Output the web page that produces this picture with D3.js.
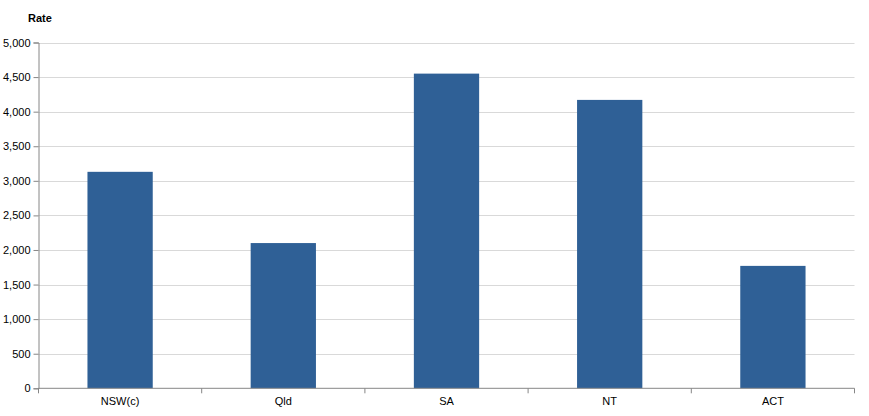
<!DOCTYPE html>
<html>
<head>
<meta charset="utf-8">
<script src="https://cdn.jsdelivr.net/npm/d3@7"></script>
<style>
    body { margin: 0; background: #fff; }
    text { font-family: "Liberation Sans", Arial, sans-serif; fill: #000; }
</style>
</head>
<body>
<div id="chart"></div>
<script>
const categories = ['NSW(c)', 'Qld', 'SA', 'NT', 'ACT']
const rates = [3130, 2100, 4550, 4170, 1770]
const yTicks = [0, 500, 1000, 1500, 2000, 2500, 3000, 3500, 4000, 4500, 5000]

const width = 869
const height = 416
const margin = { top: 42.5, right: 14.5, bottom: 27.7, left: 38.5 }

const svg = d3.select('#chart').append('svg')
    .attr('width', width)
    .attr('height', height)

const x = d3.scaleBand()
    .domain(categories)
    .range([margin.left, width - margin.right])
    .paddingInner(0.6)
    .paddingOuter(0.3)

const y = d3.scaleLinear()
    .domain([0, 5000])
    .range([height - margin.bottom, margin.top])

// gridlines
svg.append('g')
    .selectAll('line')
    .data(yTicks.filter(d => d > 0))
    .enter().append('line')
    .attr('x1', margin.left)
    .attr('x2', width - margin.right)
    .attr('y1', d => Math.round(y(d)) + 0.5)
    .attr('y2', d => Math.round(y(d)) + 0.5)
    .attr('stroke', '#d9d9d9')

// bars
svg.append('g')
    .selectAll('rect')
    .data(rates)
    .enter().append('rect')
    .attr('x', (d, i) => x(categories[i]))
    .attr('width', x.bandwidth())
    .attr('y', d => y(d))
    .attr('height', d => y(0) - y(d))
    .attr('fill', '#2f6096')

// y axis
const yAxis = svg.append('g')
    .attr('transform', 'translate(' + margin.left + ',0)')
    .call(d3.axisLeft(y).tickValues(yTicks).tickFormat(d3.format(',')).tickSize(5).tickPadding(3))
yAxis.select('.domain').attr('stroke', '#868686')
yAxis.selectAll('.tick line').attr('stroke', '#868686')
yAxis.selectAll('.tick text').style('font-size', '11px')

// x axis with ticks on category boundaries
const step = x.step()
const bounds = d3.range(categories.length + 1).map(i => margin.left + i * step)
const xAxis = svg.append('g')
svg.append('line')
    .attr('x1', margin.left)
    .attr('x2', width - margin.right)
    .attr('y1', y(0))
    .attr('y2', y(0))
    .attr('stroke', '#868686')
xAxis.selectAll('line')
    .data(bounds)
    .enter().append('line')
    .attr('x1', d => d)
    .attr('x2', d => d)
    .attr('y1', y(0))
    .attr('y2', y(0) + 5)
    .attr('stroke', '#868686')
xAxis.selectAll('text')
    .data(categories)
    .enter().append('text')
    .attr('x', d => x(d) + x.bandwidth() / 2)
    .attr('y', y(0) + 17)
    .attr('text-anchor', 'middle')
    .style('font-size', '11px')
    .text(d => d)

// axis title
svg.append('text')
    .attr('x', 28)
    .attr('y', 22)
    .style('font-size', '11px')
    .style('font-weight', 'bold')
    .text('Rate')
</script>
</body>
</html>
